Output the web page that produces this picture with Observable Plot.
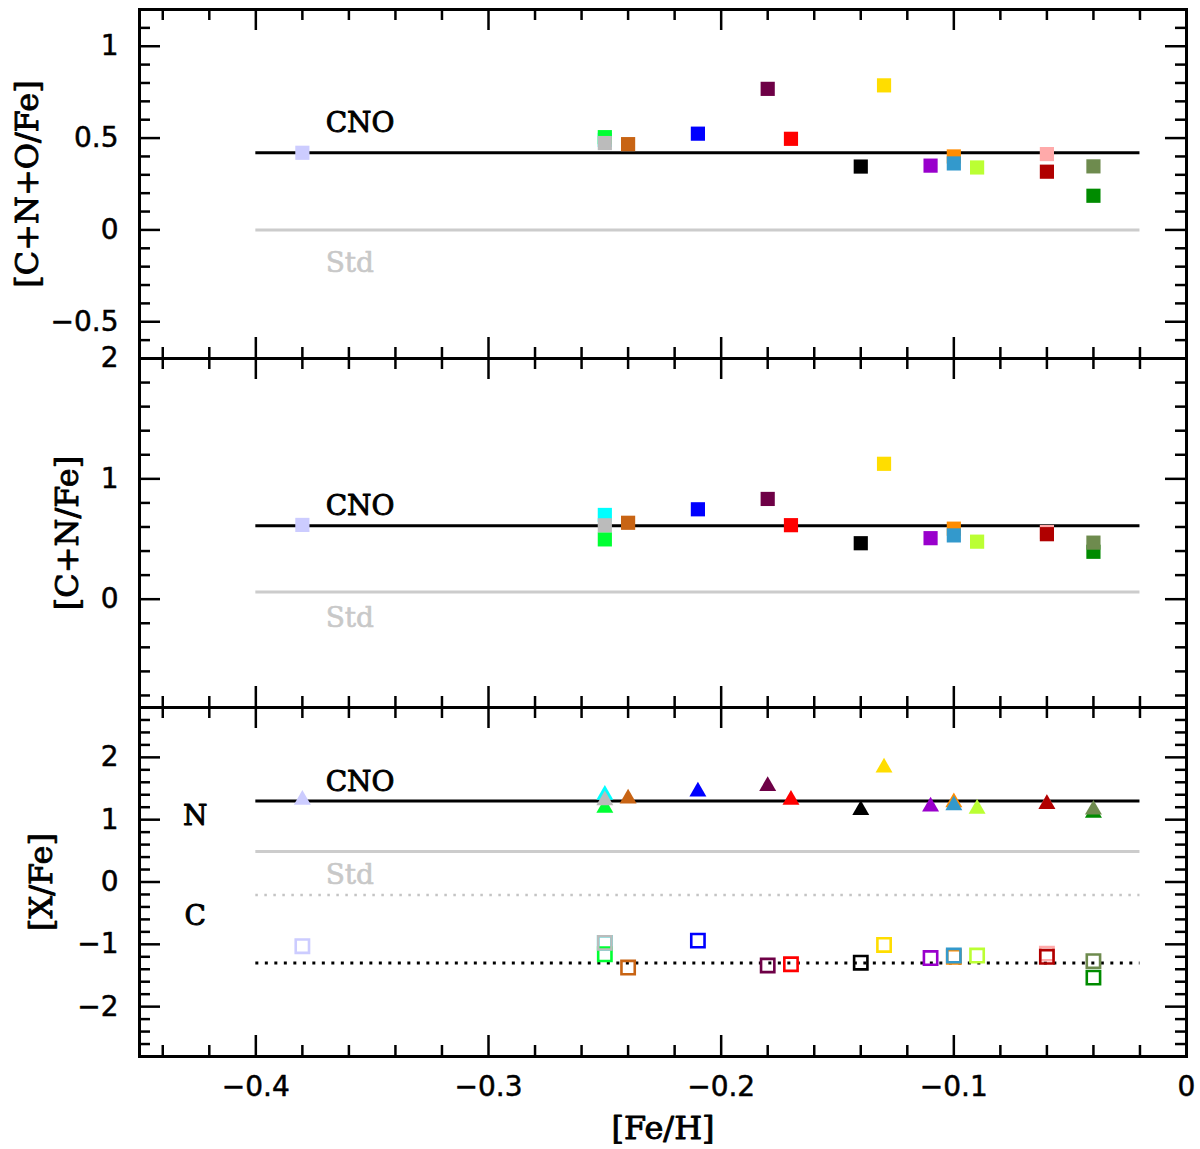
<!DOCTYPE html>
<html><head><meta charset="utf-8">
<script src="https://cdn.jsdelivr.net/npm/d3@7"></script>
<script src="https://cdn.jsdelivr.net/npm/@observablehq/plot@0.6"></script>
<style>
body{margin:0;background:#fff;}
#chart svg{display:block;overflow:visible;background:transparent;}
</style></head><body><div id="chart"></div>
<script>
// stars: lavender, cyan, green, gray, brown, blue, maroon, red, black, gold, purple, orange, steelblue, yellowgreen, pink, darkred, green2, olive
const feh    = [-0.38,-0.25,-0.25,-0.25,-0.24,-0.21,-0.18,-0.17,-0.14,-0.13,-0.11,-0.10,-0.10,-0.09,-0.06,-0.06,-0.04,-0.04];
const colors = ["#ccccff","#00ffff","#00ff33","#bbbbbb","#c86414","#0000ff","#6e0046","#ff0000","#000000","#ffdd00","#9900cc","#ff8c00","#3399cc","#bbff33","#ffaaaa","#b00000","#008b00","#6e8b4e"];
const cnoFe  = [0.42,0.49,0.505,0.473,0.467,0.524,0.768,0.496,0.345,0.787,0.35,0.40,0.362,0.34,0.413,0.317,0.186,0.346];
const cnFe   = [0.617,0.70,0.497,0.614,0.635,0.747,0.833,0.615,0.465,1.125,0.507,0.586,0.53,0.478,0.558,0.54,0.394,0.47];
const nFe    = [1.32,1.40,1.19,1.31,1.34,1.45,1.54,1.32,1.155,1.835,1.21,1.28,1.23,1.175,1.25,1.25,1.11,1.16];
const cFe    = [-1.03,-0.976,-1.16,-0.976,-1.373,-0.94,-1.34,-1.32,-1.295,-1.01,-1.22,-1.2,-1.18,-1.18,-1.15,-1.2,-1.535,-1.27];

// model lines
const lineX = [-0.4, -0.02];
const cnoLevel = [0.42, 0.61, 1.30];   // N line in bottom panel
const stdLevel = [0, 0.06, 0.49];
const cnoLevelC = -1.30;
const stdLevelC = -0.21;

// annotation labels
const labelX = -0.37;
const cnoLabelY = [0.58, 0.775, 1.61];
const stdLabelY = [-0.18, -0.16, 0.11];
const elemLabels = ["N", "C"];
const elemLabelX = -0.426;
const elemLabelY = [1.06, -0.55];

// axes
const xDomain = [-0.45, 0];
const xMajor = [-0.4, -0.3, -0.2, -0.1];
const xMinor = [-0.44,-0.42,-0.38,-0.36,-0.34,-0.32,-0.28,-0.26,-0.24,-0.22,-0.18,-0.16,-0.14,-0.12,-0.08,-0.06,-0.04,-0.02];
const xTickValues = [-0.4, -0.3, -0.2, -0.1, 0];
const xTickLabels = ["−0.4", "−0.3", "−0.2", "−0.1", "0"];

const y1Domain = [-0.7, 1.2];
const y1Major = [-0.5, 0, 0.5, 1];
const y1Minor = [-0.6,-0.4,-0.3,-0.2,-0.1,0.1,0.2,0.3,0.4,0.6,0.7,0.8,0.9,1.1];
const y1Labels = ["−0.5", "0", "0.5", "1"];

const y2Domain = [-0.9, 2.0];
const y2Major = [0, 1];
const y2Minor = [-0.8,-0.6,-0.4,-0.2,0.2,0.4,0.6,0.8,1.2,1.4,1.6,1.8];
const y2LabelValues = [0, 1, 2];
const y2Labels = ["0", "1", "2"];

const y3Domain = [-2.8, 2.8];
const y3Major = [-2, -1, 0, 1, 2];
const y3Minor = [-2.6,-2.4,-2.2,-1.8,-1.6,-1.4,-1.2,-0.8,-0.6,-0.4,-0.2,0.2,0.4,0.6,0.8,1.2,1.4,1.6,1.8,2.2,2.4,2.6];
const y3Labels = ["−2", "−1", "0", "1", "2"];

const yTitles = ["[C+N+O/Fe]", "[C+N/Fe]", "[X/Fe]"];
const yTitleDx = [-112, -72, -98];
const xTitle = "[Fe/H]";

const rows = feh.map((x, i) => ({feh: x, color: colors[i], cno: cnoFe[i], cn: cnFe[i], n: nFe[i], c: cFe[i]}));

const W = 1200, ML = 139, MR = 14, PH = 349;
const FW = W - ML - MR;
const serif = "DejaVu Serif";
const sans = "DejaVu Sans";
const serifStyle = {fontFamily: serif, fill: "black", stroke: "black", strokeWidth: 0.9};
const sansStyle = {fontFamily: sans, fontSize: 28, fill: "black", stroke: "black", strokeWidth: 0.5};

function tickMarks(yMajor, yMinor) {
  const TS = 2.5;
  return [
    Plot.tickX(xMajor, {x: d => d, insetTop: PH - 21, stroke: "black", strokeWidth: TS}),
    Plot.tickX(xMajor, {x: d => d, insetBottom: PH - 21, stroke: "black", strokeWidth: TS}),
    Plot.tickX(xMinor, {x: d => d, insetTop: PH - 11, stroke: "black", strokeWidth: TS}),
    Plot.tickX(xMinor, {x: d => d, insetBottom: PH - 11, stroke: "black", strokeWidth: TS}),
    Plot.tickY(yMajor, {y: d => d, insetRight: FW - 21, stroke: "black", strokeWidth: TS}),
    Plot.tickY(yMajor, {y: d => d, insetLeft: FW - 21, stroke: "black", strokeWidth: TS}),
    Plot.tickY(yMinor, {y: d => d, insetRight: FW - 11, stroke: "black", strokeWidth: TS}),
    Plot.tickY(yMinor, {y: d => d, insetLeft: FW - 11, stroke: "black", strokeWidth: TS}),
    Plot.frame({stroke: "black", strokeWidth: 3})
  ];
}

function yLabels(values, labels) {
  return Plot.text(values, {y: d => d, text: (d, i) => labels[i], frameAnchor: "left", textAnchor: "end", lineAnchor: "middle", dx: -21, ...sansStyle});
}

function yTitle(k) {
  return Plot.text([yTitles[k]], {text: d => d, frameAnchor: "left", textAnchor: "middle", lineAnchor: "middle", dx: yTitleDx[k], rotate: -90, fontSize: 32, ...serifStyle});
}

function modelLines(k) {
  return [
    Plot.ruleY([stdLevel[k]], {y: d => d, x1: lineX[0], x2: lineX[1], stroke: "#cccccc", strokeWidth: 3}),
    Plot.ruleY([cnoLevel[k]], {y: d => d, x1: lineX[0], x2: lineX[1], stroke: "black", strokeWidth: 3}),
    Plot.text(["CNO"], {x: labelX, y: cnoLabelY[k], text: d => d, textAnchor: "start", fontSize: 28, ...serifStyle}),
    Plot.text(["Std"], {x: labelX, y: stdLabelY[k], text: d => d, textAnchor: "start", fontSize: 28, fontFamily: serif, fill: "#c8c8c8", stroke: "#c8c8c8", strokeWidth: 0.6})
  ];
}

const base = {
  width: W, marginLeft: ML, marginRight: MR,
  x: {domain: xDomain, axis: null},
  color: {type: "identity"},
  style: {background: "transparent", overflow: "visible"}
};

const p1 = Plot.plot({
  ...base, height: PH + 9, marginTop: 9, marginBottom: 0,
  y: {domain: y1Domain, axis: null},
  marks: [
    ...modelLines(0),
    Plot.dot(rows, {x: "feh", y: "cno", symbol: "square", r: 8.0, fill: "color"}),
    ...tickMarks(y1Major, y1Minor),
    yLabels(y1Major, y1Labels),
    yTitle(0)
  ]
});

const p2 = Plot.plot({
  ...base, height: PH, marginTop: 0, marginBottom: 0,
  y: {domain: y2Domain, axis: null},
  marks: [
    ...modelLines(1),
    Plot.dot(rows, {x: "feh", y: "cn", symbol: "square", r: 8.0, fill: "color"}),
    ...tickMarks(y2Major, y2Minor),
    yLabels(y2LabelValues, y2Labels),
    yTitle(1)
  ]
});

const p3 = Plot.plot({
  ...base, height: PH + 93, marginTop: 0, marginBottom: 93,
  y: {domain: y3Domain, axis: null},
  marks: [
    ...modelLines(2),
    Plot.ruleY([stdLevelC], {y: d => d, x1: lineX[0], x2: lineX[1], stroke: "#c4c4c4", strokeWidth: 2.5, strokeDasharray: "2.5,6.5"}),
    Plot.ruleY([cnoLevelC], {y: d => d, x1: lineX[0], x2: lineX[1], stroke: "black", strokeWidth: 3, strokeDasharray: "3,6.5"}),
    Plot.text(elemLabels, {x: elemLabelX, y: (d, i) => elemLabelY[i], text: d => d, fontSize: 28, ...serifStyle}),
    Plot.dot(rows, {x: "feh", y: "n", symbol: "triangle", r: 6.3, fill: "color"}),
    Plot.dot(rows, {x: "feh", y: "c", symbol: "square", r: 7.5, fill: "none", stroke: "color", strokeWidth: 2.6}),
    ...tickMarks(y3Major, y3Minor),
    yLabels(y3Major, y3Labels),
    yTitle(2),
    Plot.text(xTickValues, {x: d => d, text: (d, i) => xTickLabels[i], frameAnchor: "bottom", lineAnchor: "middle", dy: 31, ...sansStyle}),
    Plot.text([xTitle], {text: d => d, frameAnchor: "bottom", lineAnchor: "middle", dy: 72, fontSize: 32, ...serifStyle})
  ]
});

const root = document.getElementById("chart");
root.append(p1, p2, p3);
</script>
</body></html>
